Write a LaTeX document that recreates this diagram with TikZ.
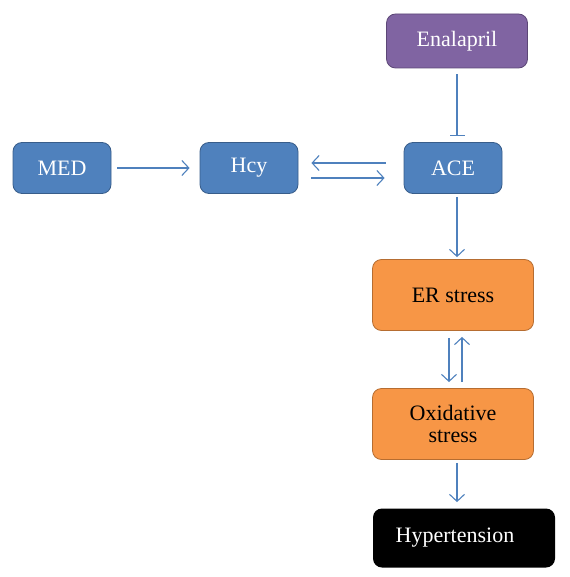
\documentclass[tikz,border=0pt]{standalone}
\usepackage{fontspec}
\setmainfont{Liberation Serif}
\usetikzlibrary{arrows.meta}
\definecolor{boxblue}{HTML}{4F81BD}
\definecolor{lineblue}{HTML}{385D8A}
\definecolor{boxorange}{HTML}{F79646}
\definecolor{lineorange}{HTML}{B66D31}
\definecolor{boxpurple}{HTML}{8064A2}
\definecolor{linepurple}{HTML}{5C4776}
\begin{document}
\begin{tikzpicture}[x=1pt,y=-1pt,
    box/.style={rounded corners=9pt,minimum height=51pt,font=\fontsize{22}{24}\selectfont,line width=0.8pt,align=center},
    bluebox/.style={box,fill=boxblue,draw=lineblue,text=white,minimum width=98pt},
    orangebox/.style={box,fill=boxorange,draw=lineorange,minimum width=161pt,minimum height=71pt},
    link/.style={draw=boxblue,line width=1.1pt,-{Straight Barb[length=7pt,width=15pt]}}]
    \useasboundingbox (0,0) rectangle (569,577);
    \node[box,fill=boxpurple,draw=linepurple,text=white,minimum width=141pt,minimum height=54pt] (enal) at (457,41) {Enalapril};
    \node[bluebox] (med) at (62,168) {MED};
    \node[bluebox] (hcy) at (249,168) {Hcy};
    \node[bluebox] (ace) at (453,168) {ACE};
    \node[orangebox] (er) at (453,295) {ER stress};
    \node[orangebox] (ox) at (453,424) {Oxidative\\[-2pt]stress};
    \node[box,fill=black,text=white,minimum width=182pt,minimum height=59pt] (hyp) at (464,538) {Hypertension\hspace*{18pt}};
    % arrows
    \draw[link] ([xshift=6pt]med.east) -- ([xshift=-10pt]hcy.west);
    \draw[link] ([xshift=-18pt,yshift=5pt]ace.west) -- ([xshift=13pt,yshift=5pt]hcy.east);
    \draw[link] ([xshift=13pt,yshift=-10pt]hcy.east) -- ([xshift=-19pt,yshift=-10pt]ace.west);
    \draw[draw=boxblue,line width=1.1pt,-{Bar[width=15pt]}] ([yshift=-6pt]enal.south) -- ([xshift=4pt,yshift=6pt]ace.north);
    \draw[link] ([xshift=4pt,yshift=-3pt]ace.south) -- ([xshift=4pt,yshift=2pt]er.north);
    \draw[link] ([xshift=-4pt,yshift=-7pt]er.south) -- ([xshift=-4pt,yshift=6pt]ox.north);
    \draw[link] ([xshift=9pt,yshift=6pt]ox.north) -- ([xshift=9pt,yshift=-6pt]er.south);
    \draw[link] ([xshift=4pt,yshift=-3pt]ox.south) -- ([xshift=-7pt,yshift=6pt]hyp.north);
\end{tikzpicture}
\end{document}
